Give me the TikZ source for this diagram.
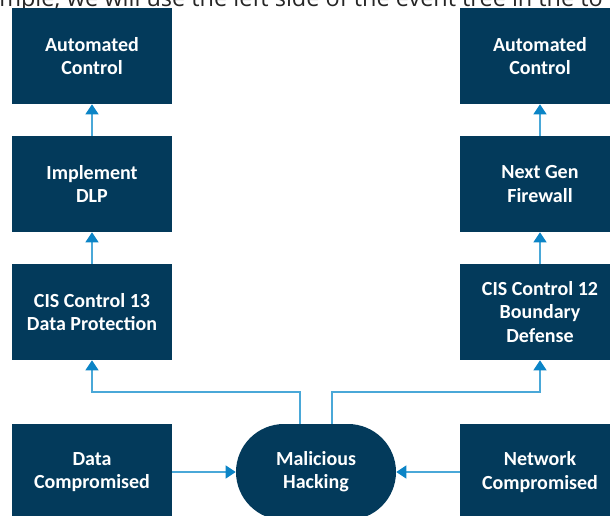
\documentclass[tikz,border=0pt]{standalone}
\usepackage{fontspec}
\newfontfamily\boxfont{Carlito}
\newfontfamily\introfont{Open Sans}
\usetikzlibrary{arrows.meta,calc}

\definecolor{navy}{HTML}{033A5B}
\definecolor{linkblue}{HTML}{4AA8D8}
\definecolor{tipblue}{HTML}{0B84C6}

\begin{document}
\begin{tikzpicture}[
  x=0.75pt, y=-0.75pt,
  box/.style={fill=navy, text=white, minimum width=120pt, minimum height=72pt,
    inner sep=0pt, align=center, font=\boxfont\bfseries\fontsize{15}{17.5}\selectfont},
  event/.style={box, rounded corners=36pt},
  link/.style={draw=linkblue, line width=1.5pt,
    -{Triangle[length=7.5pt, width=9.5pt, color=tipblue]}}
]
\useasboundingbox (0,0) rectangle (610,516);
\clip (0,0) rectangle (610,516);

% Cut-off line of running text above the tree.
\node[anchor=base west, inner sep=0pt, text=black!85,
  font=\introfont\fontsize{17.6}{20}\selectfont] (intro) at (-1,7)
  {mple; we will use the left side of the event tree in the to};

\def\xl{92}
\def\xr{540}

% Left branch.
\node[box] (autoL) at (\xl,56) {Automated\\Control};
\node[box] (dlp)   at (\xl,184) {Implement\\DLP};
\node[box] (cis13) at (\xl,312) {CIS Control 13\\Data Protection};
\node[box] (datac) at (\xl,472) {Data\\Compromised};

% Right branch.
\node[box] (autoR) at (\xr,56) {Automated\\Control};
\node[box] (ngfw)  at (\xr,184) {Next Gen\\Firewall};
\node[box] (cis12) at (\xr,312) {CIS Control 12\\Boundary\\Defense};
\node[box] (netc)  at (\xr,472) {Network\\Compromised};

% Central event.
\node[event] (hack) at (316,472) {Malicious\\Hacking};

% Connectors.
\draw[link] (datac) -- (hack);
\draw[link] (netc) -- (hack);
\draw[link] ([xshift=-12pt]hack.north) -- ++(0,-32) -| (cis13);
\draw[link] ([xshift=12pt]hack.north) -- ++(0,-32) -| (cis12);
\draw[link] (cis13) -- (dlp);
\draw[link] (dlp) -- (autoL);
\draw[link] (cis12) -- (ngfw);
\draw[link] (ngfw) -- (autoR);

\end{tikzpicture}
\end{document}
